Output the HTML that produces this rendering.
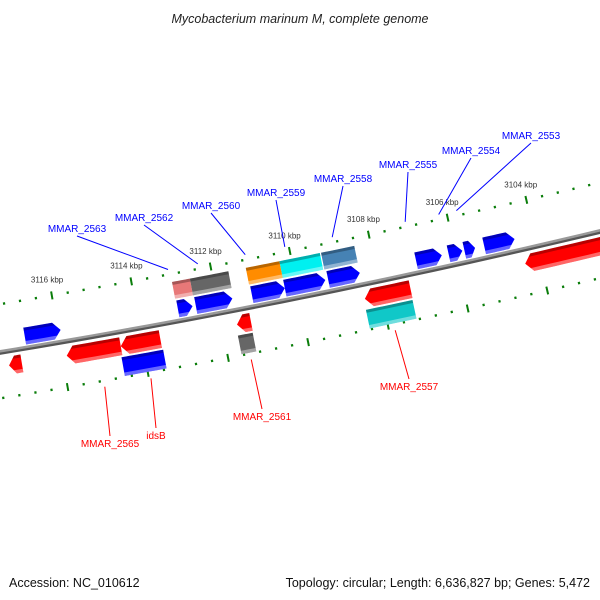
<!DOCTYPE html>
<html><head><meta charset="utf-8"><style>
html,body{margin:0;padding:0;background:#fff;}
svg{display:block;font-family:"Liberation Sans","DejaVu Sans",sans-serif;}
</style></head><body>
<svg id="map" width="600" height="600" viewBox="0 0 600 600" xmlns="http://www.w3.org/2000/svg">
<text x="300" y="23" text-anchor="middle" font-size="12.5" font-style="italic" fill="#222">Mycobacterium marinum M, complete genome</text>
<text x="9" y="587" font-size="12.5" fill="#111">Accession: NC_010612</text>
<text x="590" y="587" text-anchor="end" font-size="12.5" fill="#111">Topology: circular; Length: 6,636,827 bp; Genes: 5,472</text>
<g id="ticks"></g>
<g id="backbone"></g>
<g id="genes"></g>
<g id="labels"></g>
</svg>
<script>
// ---- data ----
const geneStart = [3116.83,3112.99,3112.54,3111.13,3110.30,3109.21,3106.99,3106.17,3105.77,3105.27,
                   3113.01,3112.56,3111.15,3110.30,3109.25,
                   3117.33,3115.89,3114.54,3111.63,3108.42,3104.38,
                   3114.57,3111.66,3108.45];
const geneEnd   = [3115.93,3112.62,3111.62,3110.30,3109.28,3108.41,3106.34,3105.82,3105.50,3104.50,
                   3112.56,3111.59,3110.30,3109.28,3108.41,
                   3117.01,3114.54,3113.55,3111.28,3107.27,3102.00,
                   3113.53,3111.29,3107.28];
const geneRow   = ['A1','A1','A1','A1','A1','A1','A1','A1','A1','A1',
                   'A2','A2','A2','A2','A2',
                   'B1','B1','B1','B1','B1','B1',
                   'B2','B2','B2'];
const geneArrow = [1,1,1,1,1,1,1,1,1,1, 0,0,0,0,0, -1,-1,-1,-1,-1,-1, 0,0,0];
const geneColor = ['#0000ff','#0000ff','#0000ff','#0000ff','#0000ff','#0000ff','#0000ff','#0000ff','#0000ff','#0000ff',
                   '#e87878','#666666','#ff8c00','#00f0f0','#4682b4',
                   '#ff0000','#ff0000','#ff0000','#ff0000','#ff0000','#ff0000',
                   '#0000ff','#666666','#10c8c8'];
const tickLabels = [3116,3114,3112,3110,3108,3106,3104];
const labelNames = ['MMAR_2563','MMAR_2562','MMAR_2560','MMAR_2559','MMAR_2558','MMAR_2555','MMAR_2554','MMAR_2553',
                    'MMAR_2565','idsB','MMAR_2561','MMAR_2557'];
const labelPos   = [3113.05,3112.30,3111.10,3110.10,3108.90,3107.05,3106.20,3105.75,
                    3115.10,3113.95,3111.45,3107.85];
const labelStrand= [1,1,1,1,1,1,1,1,-1,-1,-1,-1];
// ---- geometry ----
const CX=-1416, CY=-8220, R=8688, TH0=80.22, K=0.2675, P0=3116;
const rows={A1:[-20,-3],A2:[-39,-22],B1:[6,24],B2:[26,45]};
function P(p,dr){const t=(TH0+(p-P0)*K)*Math.PI/180;const r=R+dr;return [CX+r*Math.cos(t),CY+r*Math.sin(t)];}
const NS='http://www.w3.org/2000/svg';
function mk(tag,attrs,parent){const e=document.createElementNS(NS,tag);for(const k in attrs)e.setAttribute(k,attrs[k]);parent.appendChild(e);return e;}
function pts(arr){return arr.map(q=>q[0].toFixed(2)+','+q[1].toFixed(2)).join(' ');}
// backbone
const bb=document.getElementById('backbone');
function arcPath(dr,p1,p2){let d='';for(let i=0;i<=40;i++){const p=p1+(p2-p1)*i/40;const q=P(p,dr);d+=(i?'L':'M')+q[0].toFixed(2)+' '+q[1].toFixed(2);}return d;}
let e;
e=mk('path',{d:arcPath(1.5,3119,3100),stroke:'#555',fill:'none','stroke-width':3},bb);


e=mk('path',{d:arcPath(-0.5,3119,3100),stroke:'#999',fill:'none','stroke-width':2.5},bb);


// ticks
const tg=document.getElementById('ticks');
for(let i=0;i<=45;i++){
  const p=3100+i*0.4; const major=Math.abs(p/2-Math.round(p/2))<0.01;
  for(const ring of [-47,46]){
    const h=major?4:1.2;
    const a=P(p,ring-h),b=P(p,ring+h);
    e=mk('line',{x1:a[0],y1:a[1],x2:b[0],y2:b[1],stroke:'#0a7d0a','stroke-width':major?2:2.2},tg);
    
    
  }
}
tickLabels.forEach(v=>{const q=P(v,-63);
  e=mk('text',{x:q[0]-2,y:q[1]+3,'text-anchor':'middle','font-size':'8',fill:'#333'},tg);
  e.textContent=v+' kbp';
  
  
});
// genes
const gg=document.getElementById('genes');
function shape(p1,p2,d1,d2,arrow){
  const ah=0.18; const top=[],bot=[];const n=8;
  let a=p1,b=p2; if(arrow===1)b=Math.min(p1-0.02,p2+ah)>p2?p2+Math.min(ah,(p1-p2)*0.5):p2; if(arrow===-1)a=p1-Math.min(ah,(p1-p2)*0.5);
  for(let i=0;i<=n;i++){const p=a+(b-a)*i/n;top.push(P(p,d1));bot.unshift(P(p,d2));}
  let poly=[];
  if(arrow===-1){poly.push(P(p1,(d1+d2)/2));}
  poly=poly.concat(top);
  if(arrow===1){poly.push(P(p2,(d1+d2)/2));}
  poly=poly.concat(bot);
  return poly;
}
geneStart.forEach((s,i)=>{
  const [d1,d2]=rows[geneRow[i]]; const p1=s,p2=geneEnd[i];
  const g=mk('g',{},gg);
  
  
  const cid='c'+i;
  const cp=mk('clipPath',{id:cid},g);
  mk('polygon',{points:pts(shape(p1,p2,d1,d2,geneArrow[i]))},cp);
  const c=geneColor[i];
  e=mk('polygon',{points:pts(shape(p1,p2,d1,d2,geneArrow[i])),fill:c},g);
  
  
  const lo=Math.min(p1,p2)-0.3,hi=Math.max(p1,p2)+0.3;
  const dark=[];for(let k=0;k<=8;k++)dark.push(P(lo+(hi-lo)*k/8,d1-2));for(let k=8;k>=0;k--)dark.push(P(lo+(hi-lo)*k/8,d1+3));
  e=mk('polygon',{points:pts(dark),fill:'#000','fill-opacity':0.28,'clip-path':'url(#'+cid+')'},g);
  
  
  const lite=[];for(let k=0;k<=8;k++)lite.push(P(lo+(hi-lo)*k/8,d2-3.5));for(let k=8;k>=0;k--)lite.push(P(lo+(hi-lo)*k/8,d2+2));
  e=mk('polygon',{points:pts(lite),fill:'#fff','fill-opacity':0.4,'clip-path':'url(#'+cid+')'},g);
  
  
});
// labels
const lg=document.getElementById('labels');
const labelXY=[[77,232],[144,221],[211,209],[276,196],[343,182],[408,168],[471,154],[531,139],
               [110,447],[156,439],[262,420],[409,390]];
labelNames.forEach((nm,i)=>{
  const up=labelStrand[i]===1; const col=up?'#0000ff':'#ff0000';
  const a=P(labelPos[i],up?-52:52); const [tx,ty]=labelXY[i];
  const ly=up?ty+4:ty-11;
  e=mk('line',{x1:tx,y1:ly,x2:a[0],y2:a[1],stroke:col,'stroke-width':1},lg);
  
  
  e=mk('text',{x:tx,y:ty,'text-anchor':'middle','font-size':'10',fill:col},lg);
  e.textContent=nm;
  
  
});
</script>
</body></html>
